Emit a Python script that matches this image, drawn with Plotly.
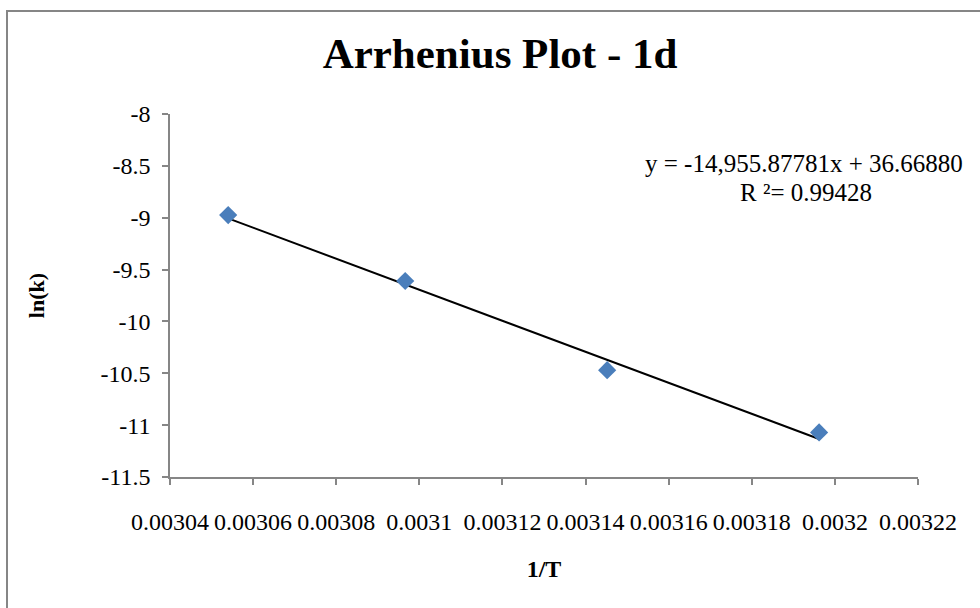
import plotly.graph_objects as go

# Arrhenius data: reciprocal temperature vs ln(rate constant)
inv_T = [0.003054, 0.0030966, 0.0031452, 0.0031962]
ln_k = [-8.975, -9.61, -10.47, -11.07]

# Linear trendline coefficients
slope = -14955.87781
intercept = 36.66880
r_squared = 0.99428

x_tick_vals = [0.00304, 0.00306, 0.00308, 0.0031, 0.00312, 0.00314, 0.00316, 0.00318, 0.0032, 0.00322]
x_tick_text = ["0.00304", "0.00306", "0.00308", "0.0031", "0.00312", "0.00314", "0.00316", "0.00318", "0.0032", "0.00322"]
y_tick_vals = [-8, -8.5, -9, -9.5, -10, -10.5, -11, -11.5]
y_tick_text = ["-8", "-8.5", "-9", "-9.5", "-10", "-10.5", "-11", "-11.5"]

FONT = "Liberation Serif"
W, H = 980, 608
L, R, T, B = 170, 62, 114, 131
pw, ph = W - L - R, H - T - B

trend_x = [min(inv_T), max(inv_T)]
trend_y = [slope * v + intercept for v in trend_x]

fig = go.Figure()
fig.add_trace(go.Scatter(
    x=trend_x, y=trend_y, mode="lines",
    line=dict(color="black", width=2), hoverinfo="skip", showlegend=False,
))
fig.add_trace(go.Scatter(
    x=inv_T, y=ln_k, mode="markers",
    marker=dict(symbol="diamond", size=14, color="#4a7ebb"),
    showlegend=False,
))

axis_common = dict(
    showgrid=False, zeroline=False, showline=True, linecolor="#868686", linewidth=1.5,
    ticks="outside", ticklen=6, tickcolor="#868686", tickwidth=1.5,
    tickfont=dict(family=FONT, size=24, color="black"),
)
fig.update_xaxes(
    range=[0.00304, 0.00322], tickmode="array", tickvals=x_tick_vals, ticktext=x_tick_text,
    tickangle=0, ticklabelstandoff=16,
    title=dict(text="<b>1/T</b>", font=dict(family=FONT, size=24, color="black"), standoff=27),
    **axis_common,
)
fig.update_yaxes(
    range=[-11.5, -8], tickmode="array", tickvals=y_tick_vals, ticktext=y_tick_text,
    ticklabelstandoff=7,
    title=dict(text="<b>ln(k)</b>", font=dict(family=FONT, size=22, color="black"), standoff=50),
    **axis_common,
)


def px_x(p):
    return (p - L) / pw


def px_y(p):
    return (H - B - p) / ph


# Chart frame
fig.add_shape(
    type="rect", xref="paper", yref="paper",
    x0=px_x(7), x1=px_x(995), y0=px_y(625), y1=px_y(11),
    line=dict(color="#868686", width=2), fillcolor="rgba(0,0,0,0)", layer="below",
)

# Trendline equation and fit quality
fig.add_annotation(
    xref="paper", yref="paper", x=px_x(643), y=px_y(164), xanchor="left", yanchor="middle",
    text=f"y = {slope:,.5f}x + {intercept:.5f}",
    showarrow=False, font=dict(family=FONT, size=25, color="black"),
)
fig.add_annotation(
    xref="paper", yref="paper", x=px_x(806), y=px_y(192), xanchor="center", yanchor="middle",
    text=f"R ²= {r_squared:.5f}",
    showarrow=False, font=dict(family=FONT, size=25, color="black"),
)

fig.update_layout(
    width=W, height=H,
    margin=dict(l=L, r=R, t=T, b=B),
    paper_bgcolor="white", plot_bgcolor="white",
    title=dict(text="<b>Arrhenius Plot - 1d</b>", xref="container", x=500 / W, xanchor="center",
               yref="container", y=1 - 53 / H, yanchor="middle",
               font=dict(family=FONT, size=43, color="black")),
)

fig.write_html("out.html")
